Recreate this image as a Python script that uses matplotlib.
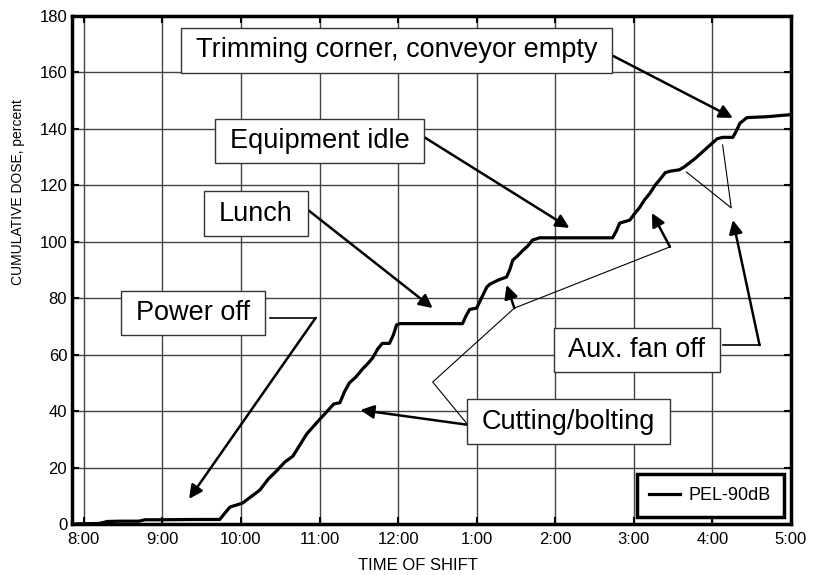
import matplotlib
matplotlib.use('Agg')
import matplotlib.pyplot as plt
from matplotlib.path import Path

plt.rcParams['font.family'] = ['Liberation Sans', 'DejaVu Sans']

# cumulative dose curve (hour of day, percent)
hours = [7.85, 8.20, 8.30, 8.46, 8.70, 8.78, 9.00, 9.40, 9.73, 9.80, 9.86, 10.02, 10.12, 10.24, 10.35,
         10.46, 10.56, 10.66, 10.75, 10.84, 10.92, 11.00, 11.10, 11.18, 11.26, 11.32, 11.38,
         11.46, 11.55, 11.62, 11.68, 11.74, 11.80, 11.89, 11.94, 11.98, 12.02, 12.82, 12.86,
         12.91, 13.00, 13.06, 13.13, 13.17, 13.28, 13.38, 13.42, 13.46, 13.52, 13.59, 13.65,
         13.71, 13.80, 14.73, 14.78, 14.82, 14.95, 15.01, 15.07, 15.14, 15.20, 15.27, 15.33,
         15.40, 15.46, 15.58, 15.64, 15.71, 15.78, 15.84, 15.92, 16.00, 16.06, 16.13, 16.26,
         16.30, 16.35, 16.44, 16.69, 16.98]
dose = [0.0, 0.2, 0.9, 1.0, 1.0, 1.5, 1.5, 1.6, 1.6, 4.0, 6.0, 7.4, 9.5, 12.0, 16.0,
        19.0, 22.0, 24.0, 28.0, 32.0, 34.5, 37.0, 40.0, 42.5, 43.0, 47.0, 50.0,
        52.0, 55.0, 57.0, 59.0, 62.0, 64.0, 64.0, 67.0, 70.5, 71.0, 71.0, 73.5,
        76.0, 76.5, 80.0, 84.0, 85.0, 86.5, 87.5, 90.0, 93.5, 95.0, 97.0, 98.5,
        100.6, 101.4, 101.4, 104.0, 106.6, 107.7, 110.0, 112.0, 115.0, 117.0, 120.0, 122.0,
        124.5, 125.0, 125.5, 126.5, 128.0, 129.5, 131.0, 133.0, 135.0, 136.5, 137.0, 137.0,
        139.0, 142.0, 144.0, 144.3, 145.0]

tick_hours = [8, 9, 10, 11, 12, 13, 14, 15, 16, 17]
tick_labels = ['8:00', '9:00', '10:00', '11:00', '12:00', '1:00', '2:00', '3:00', '4:00', '5:00']
y_ticks = [0, 20, 40, 60, 80, 100, 120, 140, 160, 180]

# annotation boxes: text, box centre
notes = [
    ('Trimming corner, conveyor empty', (11.98, 167.8)),
    ('Equipment idle', (11.0, 135.7)),
    ('Lunch', (10.19, 110.0)),
    ('Power off', (9.39, 74.8)),
    ('Cutting/bolting', (14.17, 36.3)),
    ('Aux. fan off', (15.04, 61.7)),
]
# thick arrows: start -> tip
arrows = [
    ((14.74, 165.8), (16.26, 143.9)),
    ((12.33, 137.1), (14.18, 104.9)),
    ((10.82, 112.0), (12.44, 76.5)),
    ((10.95, 73.0), (9.34, 8.9)),
    ((12.90, 35.1), (11.52, 40.4)),
    ((13.48, 76.5), (13.38, 84.7)),
    ((15.46, 98.2), (15.23, 110.2)),
    ((16.60, 63.4), (16.26, 107.7)),
]
# plain connector lines
thick_lines = [
    ([10.37, 10.95], [73.0, 73.0]),
    ([16.13, 16.60], [63.4, 63.4]),
]
thin_lines = [
    ([12.91, 12.44, 13.48, 15.46], [34.4, 50.3, 76.5, 98.2]),
    ([15.67, 16.24, 16.13], [124.7, 112.0, 134.3]),
]


def wide_box(x0, y0, width, height, mutation_size):
    # square box, more padding left/right than top/bottom
    px = 0.55 * mutation_size
    py = 0.34 * mutation_size
    x0, y0 = x0 - px, y0 - py
    x1, y1 = x0 + width + 2 * px, y0 + height + 2 * py
    return Path([(x0, y0), (x1, y0), (x1, y1), (x0, y1), (x0, y0)], closed=True)


fig = plt.figure(figsize=(8.19, 5.75), dpi=100)
ax = fig.add_axes([0.0879, 0.0887, 0.8779, 0.8835])

ax.plot(hours, dose, color='black', lw=2.3, label='PEL-90dB', zorder=3)

for xs, ys in thick_lines:
    ax.plot(xs, ys, color='black', lw=1.2, zorder=4)
for xs, ys in thin_lines:
    ax.plot(xs, ys, color='black', lw=0.8, zorder=4)
for start, tip in arrows:
    ax.annotate('', xy=tip, xytext=start,
                arrowprops=dict(arrowstyle='-|>', lw=1.8, color='black',
                                mutation_scale=20, shrinkA=0, shrinkB=0),
                zorder=5)
for txt, pos in notes:
    ax.text(pos[0], pos[1], txt, fontsize=19.5, ha='center', va='center', zorder=6,
            bbox=dict(boxstyle=wide_box, fc='white', ec='#333333', lw=1))

ax.set_xlim(7.85, 17)
ax.set_ylim(0, 180)
ax.set_xticks(tick_hours)
ax.set_xticklabels(tick_labels)
ax.set_yticks(y_ticks)
ax.grid(True, color='#444444', lw=1)
ax.set_axisbelow(True)
ax.tick_params(direction='in', length=5, width=1.5, labelsize=12,
               top=True, right=True)
ax.tick_params(axis='x', pad=6)
for s in ax.spines.values():
    s.set_linewidth(2.5)

ax.set_xlabel('TIME OF SHIFT', fontsize=12)
ax.xaxis.set_label_coords(0.481, -0.066)
ax.set_ylabel('CUMULATIVE DOSE, percent', fontsize=10)
ax.yaxis.set_label_coords(-0.066, 0.654)

leg = ax.legend(loc='lower right', fontsize=13, fancybox=False, framealpha=1,
                edgecolor='black', handlelength=1.7, handletextpad=0.5,
                borderpad=0.7, borderaxespad=0.4)
leg.get_frame().set_linewidth(2.5)

fig.savefig('out.png', dpi=100)
